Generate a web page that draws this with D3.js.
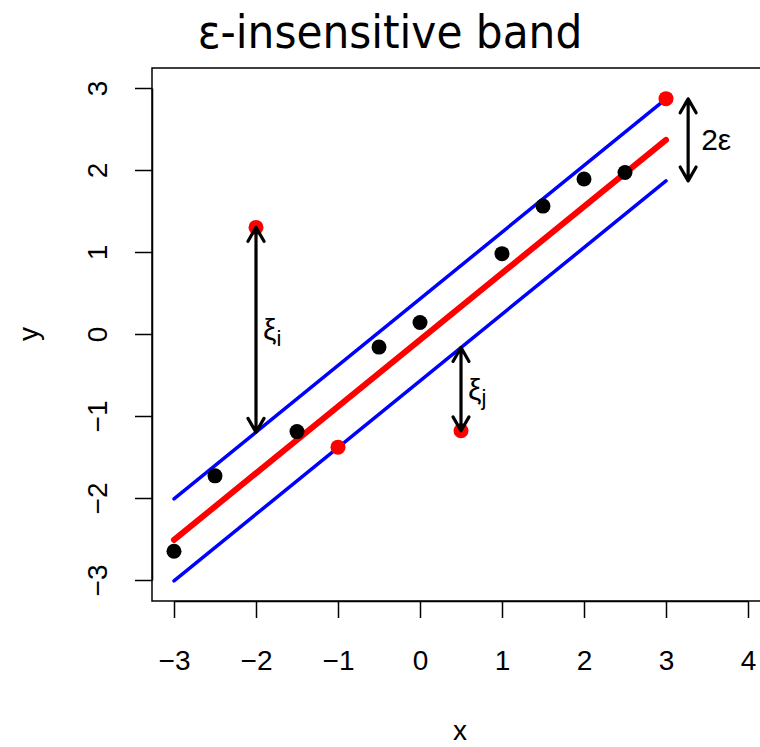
<!DOCTYPE html>
<meta charset="utf-8">
<style>
body { margin: 0; background: #fff; }
text { font-family: "Liberation Sans", Arial, sans-serif; fill: #000; }
.title { font-family: "DejaVu Sans Condensed", "DejaVu Sans", sans-serif; font-stretch: condensed; }
.axis text { font-family: "Liberation Sans", Arial, sans-serif; font-size: 28px; }
.axis path, .axis line { stroke: #000; stroke-width: 1.5; }
.band { fill: none; stroke: #0000ff; stroke-width: 3.5; stroke-linecap: round; }
.fit { fill: none; stroke: #ff0000; stroke-width: 6; stroke-linecap: round; }
.arrow { fill: none; stroke: #000; stroke-width: 3.2; stroke-linecap: round; stroke-linejoin: round; }
</style>
<body>
<div id="chart"></div>
<script src="https://d3js.org/d3.v7.min.js"></script>
<script>

// data
var xs = [-3, -2.5, -2, -1.5, -1, -0.5, 0, 0.5, 1, 1.5, 2, 2.5, 3];
var ys = [-2.65, -1.73, 1.30, -1.19, -1.38, -0.16, 0.14, -1.18, 0.98, 1.56, 1.89, 1.97, 2.87];
var outlier = [false, false, true, false, true, false, false, true, false, false, false, false, true];

// fitted line and band half width
var intercept = -0.072, slope = 0.813, eps = 0.5;
var lineX = [-3, 3];

var xTicks = [-3, -2, -1, 0, 1, 2, 3, 4];
var yTicks = [-3, -2, -1, 0, 1, 2, 3];

function fitAt(x) { return intercept + slope * x; }

// arrows: x position, from y, to y, label
var arrows = [
    {x: -2, y0: 1.30, y1: fitAt(-2) + eps, label: "ξ", sub: "i", dx: 7},
    {x: 0.5, y0: fitAt(0.5) - eps, y1: -1.18, label: "ξ", sub: "j", dx: 7},
    {x: 3.27, y0: fitAt(3) + eps, y1: fitAt(3) - eps, label: "2ε", sub: "", dx: 13}
];

var width = 760, height = 747;

var svg = d3.select("#chart").append("svg")
    .attr("width", width)
    .attr("height", height);

var xScale = d3.scaleLinear().domain([-3, 4]).range([174, 748]);
var yScale = d3.scaleLinear().domain([-3, 3]).range([580, 88]);

// plot box, open on the right like the reference
var boxL = 152, boxT = 68, boxB = 601;
svg.append("path")
    .attr("d", "M" + (width + 20) + "," + boxT + "H" + boxL + "V" + boxB + "H" + (width + 20))
    .attr("fill", "none")
    .attr("stroke", "#000")
    .attr("stroke-width", 1.5);

var fmt = d3.format("d");

// x axis
var xAxis = svg.append("g")
    .attr("class", "axis")
    .attr("transform", "translate(0," + boxB + ")")
    .call(d3.axisBottom(xScale).tickValues(xTicks).tickFormat(fmt).tickSize(17).tickSizeOuter(0));
xAxis.selectAll("text").attr("y", 59).attr("dy", "0.35em");

// y axis
var yAxis = svg.append("g")
    .attr("class", "axis")
    .attr("transform", "translate(" + boxL + ",0)")
    .call(d3.axisLeft(yScale).tickValues(yTicks).tickFormat(fmt).tickSize(17).tickSizeOuter(0));
yAxis.selectAll("text")
    .attr("x", null)
    .attr("transform", "translate(-55,0) rotate(-90)")
    .attr("text-anchor", "middle")
    .attr("dy", "0.35em");

// band lines
var line = d3.line()
    .x(function(d) { return xScale(d[0]); })
    .y(function(d) { return yScale(d[1]); });

[eps, -eps].forEach(function(off) {
    svg.append("path")
        .datum(lineX.map(function(x) { return [x, fitAt(x) + off]; }))
        .attr("class", "band")
        .attr("d", line);
});

svg.append("path")
    .datum(lineX.map(function(x) { return [x, fitAt(x)]; }))
    .attr("class", "fit")
    .attr("d", line);

// points
svg.selectAll(".dot")
    .data(xs.map(function(x, i) { return {x: x, y: ys[i], out: outlier[i]}; }))
  .enter().append("circle")
    .attr("class", "dot")
    .attr("cx", function(d) { return xScale(d.x); })
    .attr("cy", function(d) { return yScale(d.y); })
    .attr("r", 7.5)
    .attr("fill", function(d) { return d.out ? "#ff0000" : "#000"; });

// double headed arrows
var headLen = 16, headAng = Math.PI / 6;
arrows.forEach(function(a) {
    var px = xScale(a.x), p0 = yScale(a.y0), p1 = yScale(a.y1);
    var top = Math.min(p0, p1), bot = Math.max(p0, p1);
    var hx = headLen * Math.sin(headAng), hy = headLen * Math.cos(headAng);
    svg.append("path")
        .attr("class", "arrow")
        .attr("d", "M" + px + "," + top + "V" + bot +
            "M" + (px - hx) + "," + (top + hy) + "L" + px + "," + top + "L" + (px + hx) + "," + (top + hy) +
            "M" + (px - hx) + "," + (bot - hy) + "L" + px + "," + bot + "L" + (px + hx) + "," + (bot - hy));

    var t = svg.append("text")
        .attr("x", px + a.dx)
        .attr("y", (top + bot) / 2)
        .attr("dy", "0.35em")
        .style("font-size", "30px")
        .text(a.label);
    if (a.sub) {
        t.append("tspan").attr("dy", "0.25em").style("font-size", "22px").text(a.sub);
    }
});

// titles
svg.append("text")
    .attr("class", "title")
    .attr("x", 390)
    .attr("y", 48)
    .attr("text-anchor", "middle")
    .style("font-size", "47px")
    .text("ε-insensitive band");

svg.append("text")
    .attr("x", 460)
    .attr("y", 740)
    .attr("text-anchor", "middle")
    .style("font-size", "28px")
    .text("x");

svg.append("text")
    .attr("transform", "translate(38,334) rotate(-90)")
    .attr("text-anchor", "middle")
    .style("font-size", "28px")
    .text("y");
</script>
</body>
